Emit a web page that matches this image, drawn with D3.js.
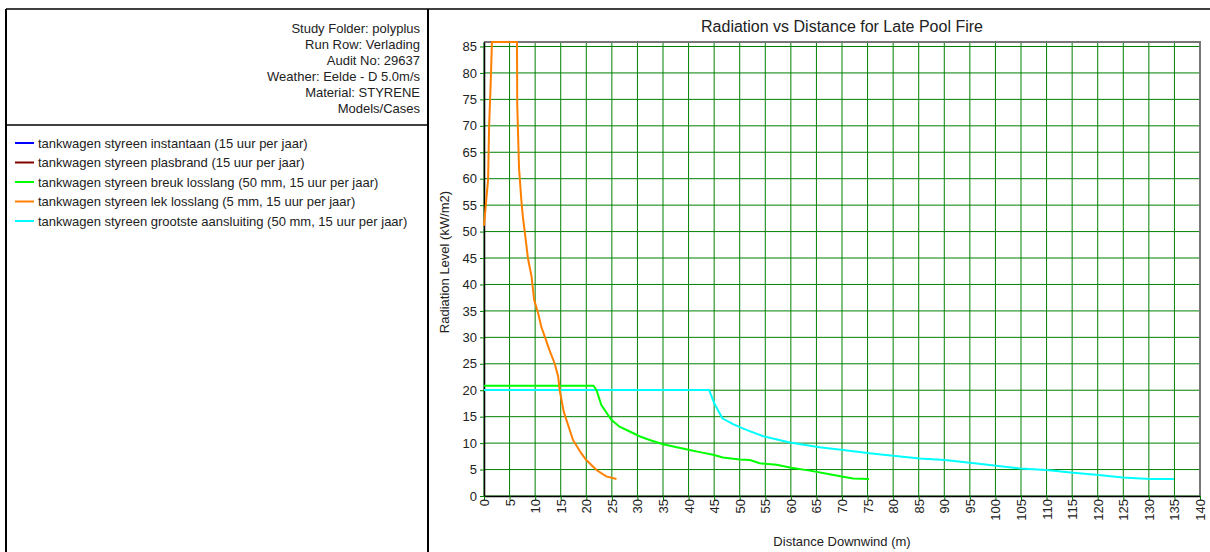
<!DOCTYPE html>
<html lang="en">
<head>
  <meta charset="UTF-8">
  <title>Radiation vs Distance for Late Pool Fire</title>
  <script src="https://d3js.org/d3.v7.min.js"></script>
  <style>
    body { margin: 0; background: #fff; }
    svg text { font-family: "Liberation Sans", Arial, sans-serif; fill: #222; }
  </style>
</head>
<body>
<div class="main"></div>
<script>
  // header info shown in the left panel
  var infoLines = ["Study Folder: polyplus", "Run Row: Verlading", "Audit No: 29637",
    "Weather: Eelde - D 5.0m/s", "Material: STYRENE", "Models/Cases"];

  var seriesNames = [
    "tankwagen styreen instantaan (15 uur per jaar)",
    "tankwagen styreen plasbrand (15 uur per jaar)",
    "tankwagen styreen breuk losslang (50 mm, 15 uur per jaar)",
    "tankwagen styreen lek losslang (5 mm, 15 uur per jaar)",
    "tankwagen styreen grootste aansluiting (50 mm, 15 uur per jaar)"
  ];
  var seriesColors = ["#0000ff", "#800000", "#00ff00", "#ff8000", "#00ffff"];

  // distance (m) / radiation (kW/m2)
  var instantaanX = [];
  var instantaanY = [];
  var plasbrandX = [];
  var plasbrandY = [];
  var breukX = [0, 21.4, 22.0, 22.95, 24.9, 26.5, 28.5, 30.4, 32.4, 35.0, 40.2, 42.2, 44.8, 46.7, 50.0, 52.0,
    53.9, 57.2, 59.8, 63.7, 67.6, 70.2, 72.2, 75.3];
  var breukY = [20.85, 20.85, 20.0, 17.2, 14.4, 13.1, 12.2, 11.3, 10.6, 9.8, 8.7, 8.3, 7.8, 7.3, 6.9, 6.8,
    6.2, 5.9, 5.4, 4.8, 4.1, 3.65, 3.3, 3.2];
  var lekX = [0, 0.27, 0.8, 1.0, 1.3, 1.55, 6.45, 6.5, 6.85, 7.3, 7.6, 8.0, 8.6, 9.3, 9.8, 10.6, 11.2, 11.9,
    12.8, 13.8, 14.5, 14.8, 15.6, 17.4, 19.0, 20.0, 22.0, 23.9, 25.9];
  var lekY = [51.1, 54.1, 59.8, 70.0, 77.8, 85.85, 85.85, 74.0, 62.0, 56.0, 52.8, 49.7, 44.9, 41.5, 37.1, 34.5,
    32.0, 30.1, 27.6, 25.1, 22.6, 20.0, 15.9, 10.6, 8.1, 6.8, 4.9, 3.7, 3.2];
  var aansluitingX = [0, 44.0, 45.05, 46.6, 48.7, 51.3, 54.6, 59.8, 65.6, 70.2, 75.4, 80.0, 85.2, 90.1, 95.0,
    100.2, 104.8, 110.0, 115.2, 119.7, 124.9, 130.2, 134.9];
  var aansluitingY = [20.05, 20.05, 17.5, 14.7, 13.6, 12.5, 11.3, 10.1, 9.2, 8.7, 8.1, 7.6, 7.1, 6.8, 6.3,
    5.7, 5.2, 4.9, 4.4, 4.0, 3.5, 3.2, 3.2];

  var xTicks = d3.range(0, 141, 5);
  var yTicks = d3.range(0, 86, 5);

  var seriesX = [instantaanX, plasbrandX, breukX, lekX, aansluitingX];
  var seriesY = [instantaanY, plasbrandY, breukY, lekY, aansluitingY];
  var drawOrder = [0, 1, 4, 2, 3];

  let width = 1210;
  let height = 552;
  let svg = d3.select(".main").append("svg").attr("width", width).attr("height", height).style("display", "block");

  // panel frames
  svg.append("line").attr("x1", 6).attr("y1", 9).attr("x2", 1210).attr("y2", 9).style("stroke", "#000").style("stroke-width", 1.5);
  svg.append("line").attr("x1", 6).attr("y1", 9).attr("x2", 6).attr("y2", 552).style("stroke", "#000").style("stroke-width", 2);
  svg.append("line").attr("x1", 428).attr("y1", 9).attr("x2", 428).attr("y2", 552).style("stroke", "#000").style("stroke-width", 2);
  svg.append("line").attr("x1", 6).attr("y1", 125).attr("x2", 428).attr("y2", 125).style("stroke", "#000").style("stroke-width", 1.5);

  // info text
  infoLines.forEach(function(t, i) {
    svg.append("text").attr("x", 420).attr("y", 33 + i * 16).attr("text-anchor", "end").style("font-size", "13px").text(t);
  });

  // legend
  seriesNames.forEach(function(name, i) {
    var ly = 143 + i * 19.5;
    svg.append("line").attr("x1", 15).attr("x2", 34).attr("y1", ly).attr("y2", ly).style("stroke", seriesColors[i]).style("stroke-width", 2);
    svg.append("text").attr("x", 38).attr("y", ly + 4.5).style("font-size", "13px").text(name);
  });

  // chart
  var plotL = 484, plotR = 1200, plotT = 42, plotB = 496;
  var x = d3.scaleLinear().domain([0, 140]).range([plotL, plotR]);
  var y = d3.scaleLinear().domain([0, 85.85]).range([plotB, plotT]);

  var grid = svg.append("g");
  xTicks.forEach(function(v) {
    grid.append("line").attr("x1", x(v)).attr("x2", x(v)).attr("y1", plotT).attr("y2", plotB).style("stroke", "#008000").style("stroke-width", 1);
  });
  yTicks.forEach(function(v) {
    grid.append("line").attr("x1", plotL).attr("x2", plotR).attr("y1", y(v)).attr("y2", y(v)).style("stroke", "#008000").style("stroke-width", 1);
  });

  // top and right border
  svg.append("path").attr("d", `M${plotL},${plotT}H${plotR}V${plotB}`).style("fill", "none").style("stroke", "#777").style("stroke-width", 2);

  var yAxis = svg.append("g").attr("transform", `translate(${plotL},0)`)
    .call(d3.axisLeft(y).tickValues(yTicks).tickSizeInner(4).tickSizeOuter(0).tickPadding(3).tickFormat(d3.format("d")));
  var xAxis = svg.append("g").attr("transform", `translate(0,${plotB})`)
    .call(d3.axisBottom(x).tickValues(xTicks).tickSizeInner(4).tickSizeOuter(0).tickPadding(2).tickFormat(d3.format("d")));
  [xAxis, yAxis].forEach(function(a) {
    a.select(".domain").style("stroke", "#000").style("stroke-width", 1.5);
    a.selectAll(".tick line").style("stroke", "#008000");
    a.selectAll("text").style("font-size", "13px").style("font-family", "\"Liberation Sans\", Arial, sans-serif").style("fill", "#222");
  });
  xAxis.selectAll(".tick text").attr("transform", "rotate(-90)").attr("text-anchor", "end")
    .attr("x", -3).attr("y", 0).attr("dy", "0.35em");

  // series lines
  var line = d3.line().x(function(d) { return x(d[0]); }).y(function(d) { return y(d[1]); });
  drawOrder.forEach(function(i) {
    var pts = seriesX[i].map(function(v, j) { return [v, seriesY[i][j]]; });
    if (pts.length === 0) return;
    svg.append("path").attr("d", line(pts)).style("fill", "none").style("stroke", seriesColors[i]).style("stroke-width", 2);
  });

  // titles
  svg.append("text").attr("x", (plotL + plotR) / 2).attr("y", 32).attr("text-anchor", "middle").style("font-size", "16px").text("Radiation vs Distance for Late Pool Fire");
  svg.append("text").attr("x", (plotL + plotR) / 2).attr("y", 546).attr("text-anchor", "middle").style("font-size", "13px").text("Distance Downwind (m)");
  svg.append("text").attr("transform", "translate(449,262) rotate(-90)").attr("text-anchor", "middle").style("font-size", "13px").text("Radiation Level (kW/m2)");
</script>
</body>
</html>
